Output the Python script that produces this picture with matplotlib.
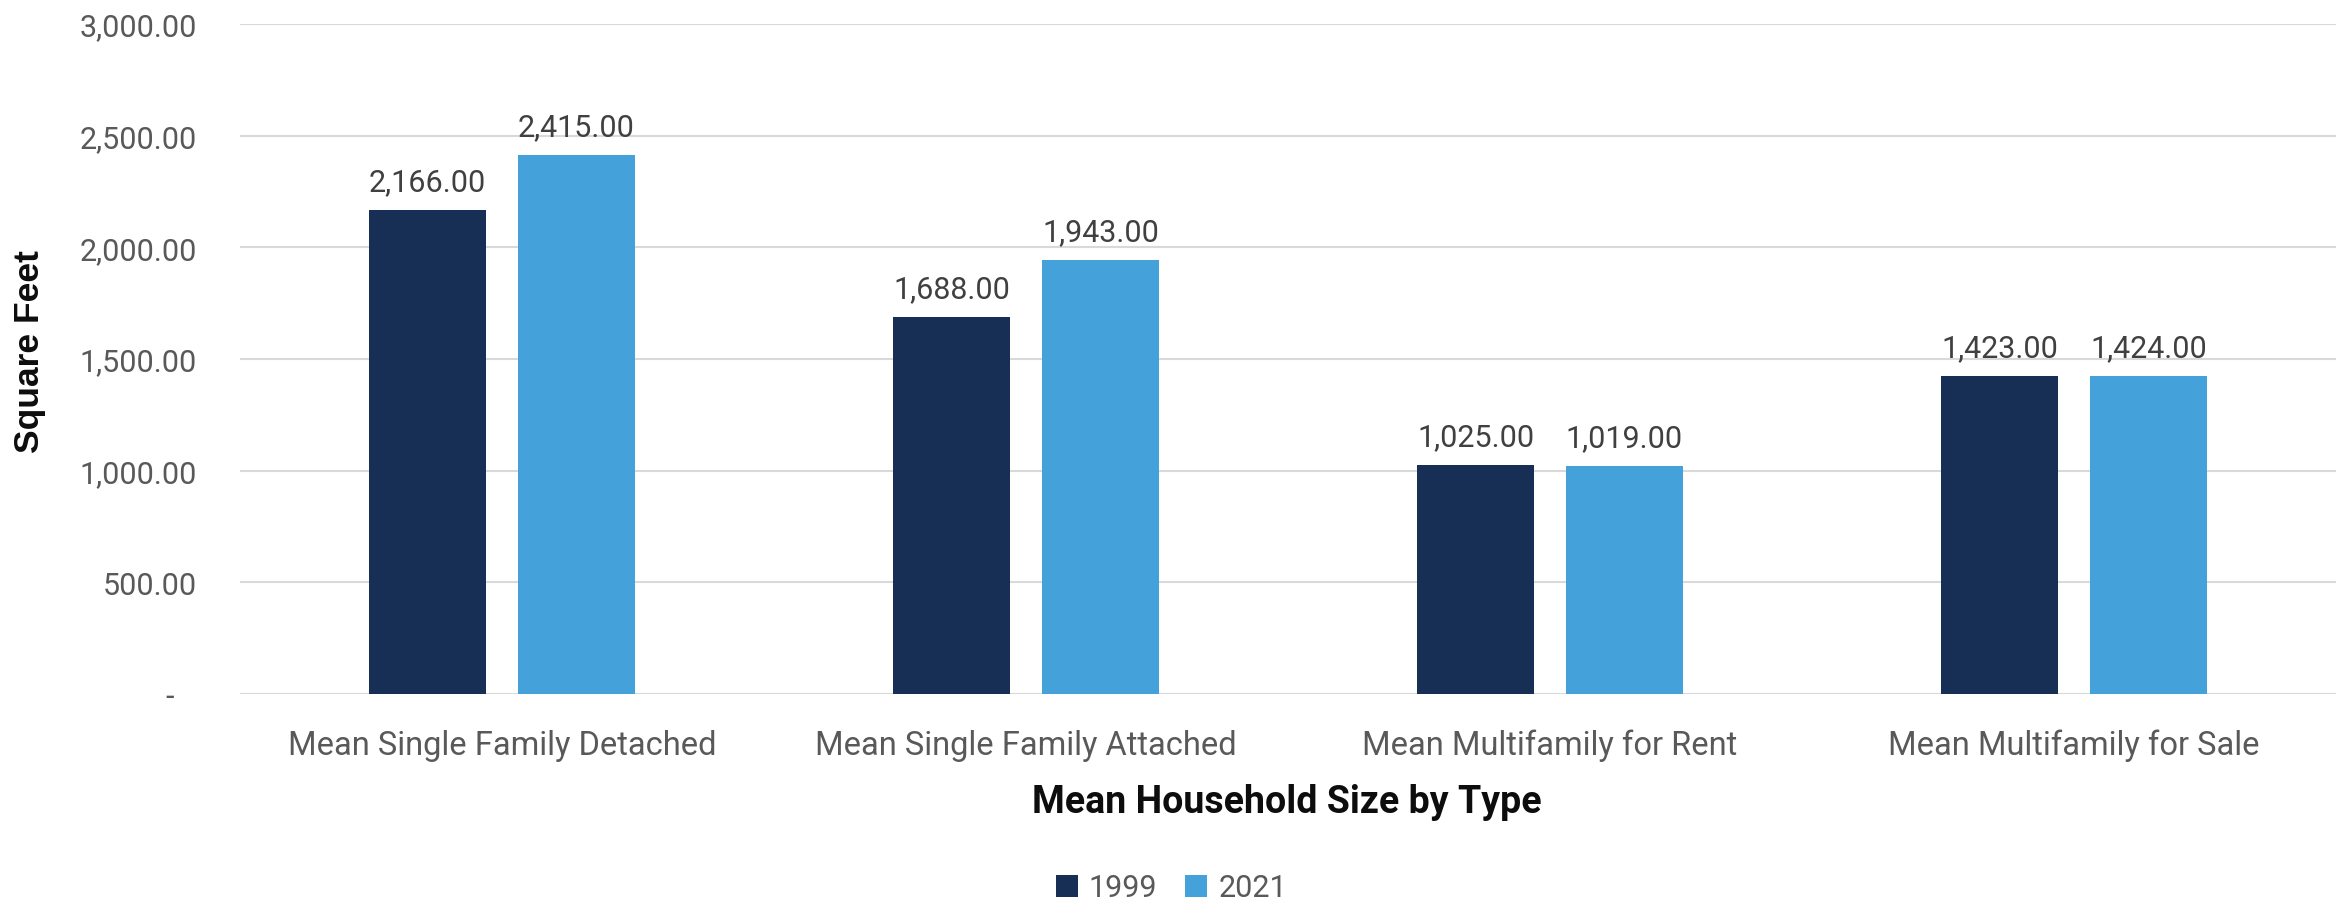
import numpy as np
import matplotlib
matplotlib.use('Agg')
import matplotlib.pyplot as plt
from matplotlib.ticker import FuncFormatter

# datos: superficie media por tipo de vivienda
categorias = ['Mean Single Family Detached', 'Mean Single Family Attached',
              'Mean Multifamily for Rent', 'Mean Multifamily for Sale']
anios = ['1999', '2021']
valores_1999 = [2166, 1688, 1025, 1423]
valores_2021 = [2415, 1943, 1019, 1424]
ticks_y = [0, 500, 1000, 1500, 2000, 2500, 3000]

colores = ['#172F54', '#44A1DA']

plt.rcParams['font.family'] = ['Roboto', 'DejaVu Sans']

fig = plt.figure(figsize=(23.49, 9.04), dpi=100)
ax = fig.add_axes([240 / 2349, 1 - 695 / 904, 2096 / 2349, 670 / 904])

x = np.arange(len(categorias))
ancho = 0.223
desp = 0.142

b1 = ax.bar(x - desp, valores_1999, ancho, color=colores[0], label=anios[0], zorder=3)
b2 = ax.bar(x + desp, valores_2021, ancho, color=colores[1], label=anios[1], zorder=3)

for barras in (b1, b2):
    ax.bar_label(barras, labels=[f'{v:,.2f}' for v in barras.datavalues],
                 padding=10, fontsize=22, color='#404040')

# ejes
ax.set_xlim(-0.5, len(categorias) - 0.5)
ax.set_ylim(0, 3000)
ax.set_yticks(ticks_y)
ax.yaxis.set_major_formatter(FuncFormatter(lambda v, p: '-   ' if v == 0 else f'{v:,.2f}'))
ax.set_xticks(x)
ax.set_xticklabels(categorias)
ax.tick_params(axis='y', length=0, pad=31, labelsize=22, labelcolor='#595959')
ax.tick_params(axis='x', length=0, pad=25, labelsize=23.5, labelcolor='#595959')
ax.grid(axis='y', color='#D9D9D9', linewidth=1.5, zorder=0)
for s in ax.spines.values():
    s.set_visible(False)

fig.text(0.548, 1 - 813 / 904, 'Mean Household Size by Type', fontsize=27,
         fontweight='bold', color='#0D0D0D', ha='center', va='baseline')
fig.text(30 / 2349, 1 - 352 / 904, 'Square Feet', fontsize=25.5, fontweight='bold',
         color='#0D0D0D', rotation=90, ha='center', va='center',
         family=['Liberation Sans', 'DejaVu Sans'])

leg = fig.legend(loc='center', bbox_to_anchor=(1171.5 / 2349, 1 - 889 / 904), ncol=2,
                 frameon=False, fontsize=22, handlelength=0.72, handleheight=0.72,
                 handletextpad=0.36, columnspacing=0.92, borderpad=0)
for t in leg.get_texts():
    t.set_color('#595959')

fig.savefig('out.png', dpi=100)
